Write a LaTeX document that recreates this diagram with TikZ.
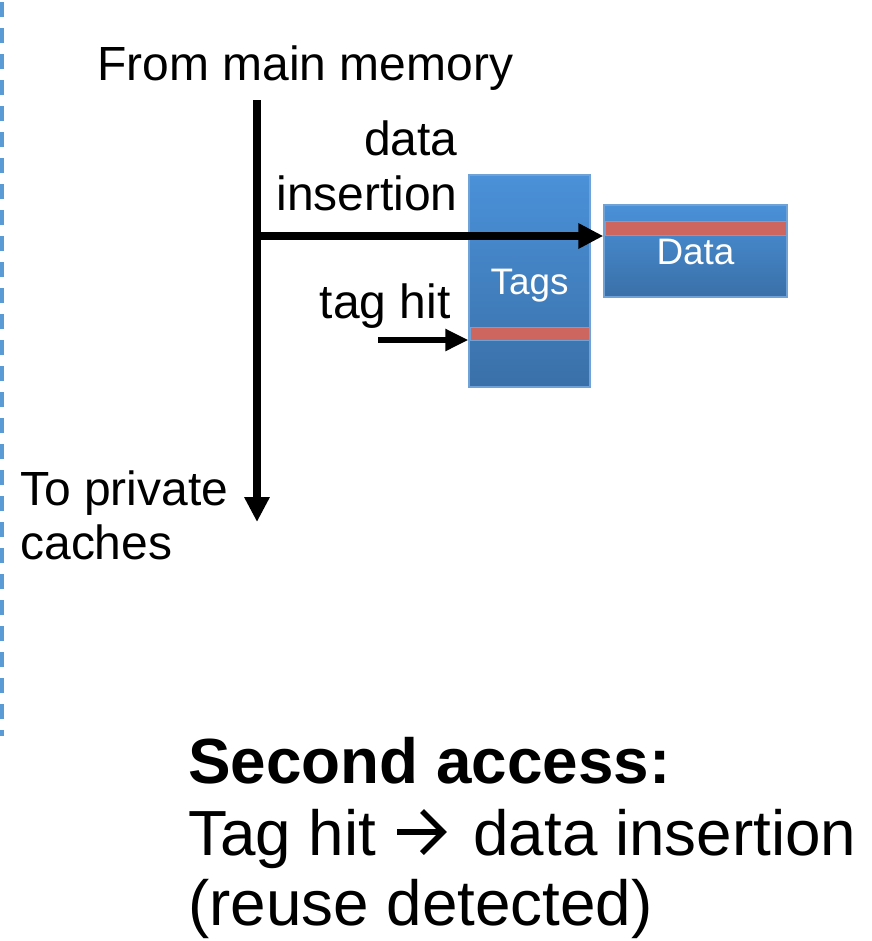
\documentclass[tikz,border=0pt]{standalone}
\usepackage{fontspec}
\setmainfont{Liberation Sans}
\usetikzlibrary{arrows.meta}

\definecolor{boxtop}{RGB}{74,145,217}
\definecolor{boxbot}{RGB}{58,112,168}
\definecolor{boxedge}{RGB}{112,162,216}
\definecolor{hitline}{RGB}{205,102,95}
\definecolor{divider}{RGB}{91,155,213}

\tikzset{
  label/.style={inner sep=0pt, font=\fontsize{27.3}{32}\selectfont},
  caption/.style={inner sep=0pt, font=\fontsize{36.3}{44}\selectfont},
  store/.style={shade, top color=boxtop, bottom color=boxbot, draw=boxedge,
    line width=0.8pt, inner sep=0pt, text=white,
    text height=15pt, text depth=0pt,
    font=\fontsize{21}{25}\selectfont},
  hitrow/.style={fill=hitline, draw=boxedge, line width=0.5pt},
  flow/.style={line width=4.3pt, -{Triangle[length=0.5cm,width=0.48cm]}},
  hitflow/.style={line width=3.1pt, -{Triangle[length=0.46cm,width=0.42cm]}},
  textarrow/.style={line width=3.2pt, line join=miter},
}

\begin{document}
\begin{tikzpicture}[x=0.02cm,y=-0.02cm]
\useasboundingbox (0,0) rectangle (872,941);

% left divider
\draw[divider, line width=2.3pt, dash pattern=on 0.3cm off 0.22cm]
  (2,2) -- (2,736);

% tag and data arrays
\node[store, minimum width=2.42cm, minimum height=4.24cm] (tags) at (529.5,281) {Tags};
\node[store, minimum width=3.66cm, minimum height=1.84cm] (data) at (695.5,251) {Data};
\draw[hitrow] (470,327) rectangle (589,340);
\draw[hitrow] (605,221) rectangle (786,235);

% labels
\node[label, anchor=base west] (from) at (97,80) {From main memory};
\node[label, anchor=base east] (ins1) at (458,155) {data};
\node[label, anchor=base east] (ins2) at (458,210) {insertion};
\node[label, anchor=base east] (hit) at (451,318) {tag hit};
\node[label, anchor=base west] (to1) at (20,505) {To private};
\node[label, anchor=base west] (to2) at (20,559) {caches};

% connectors
\coordinate (memtop) at (257,100);
\coordinate (membot) at (257,522);
\coordinate (split) at (257,236);
\coordinate (hitstart) at (378,340);
\draw[flow] (memtop) -- (membot);
\draw[flow] ([xshift=-2pt]split) -- (data.west |- split);
\draw[hitflow] (hitstart) -- (tags.west |- hitstart);

% caption
\node[caption, anchor=base west, font=\fontsize{36.3}{44}\selectfont\bfseries] (cap1) at (188,783) {Second access:};
\node[caption, anchor=base west] (cap2a) at (188,855) {Tag hit};
\node[caption, anchor=base west] (cap2b) at (473,855) {data insertion};
\node[caption, anchor=base west] (cap3) at (188,925) {(reuse detected)};
% the open arrow between "Tag hit" and "data insertion"
\draw[textarrow] (397,832) -- (443,832);
\draw[textarrow] (422,811) -- (443,832) -- (422,853);
\end{tikzpicture}
\end{document}
